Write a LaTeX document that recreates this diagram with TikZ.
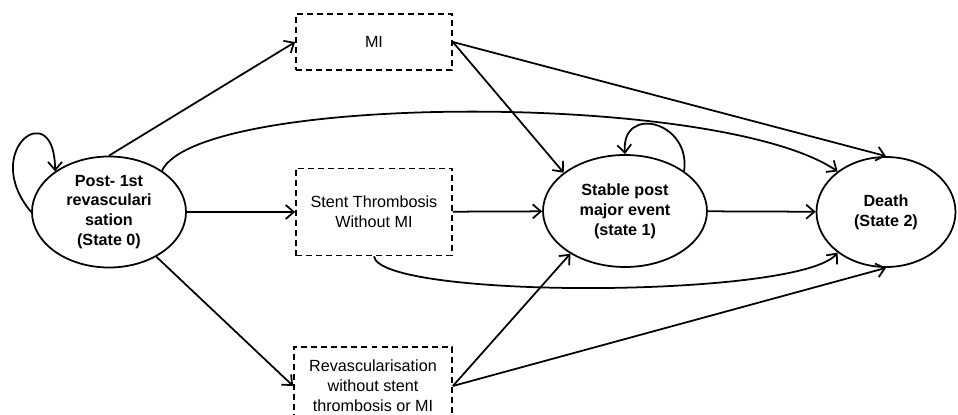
\documentclass[tikz,border=0pt]{standalone}
\usepackage{fontspec}
\setmainfont{Liberation Sans}
\usetikzlibrary{shapes.geometric,arrows.meta}

\begin{document}
\begin{tikzpicture}[>={Straight Barb[length=4.6pt,width=8pt]}, line width=1pt,
    state/.style={draw, ellipse, inner sep=0pt, align=center,
        font=\fontsize{9.2}{11.3}\selectfont\bfseries},
    event/.style={draw, dash pattern=on 3.4pt off 2.3pt, inner sep=0pt, align=center,
        font=\fontsize{9.2}{11.3}\selectfont}]
                \useasboundingbox (0,0) rectangle (19.16,8.28);
                \clip (0,0) rectangle (19.16,8.28);

                %% states
                \node[state, minimum width=3.08cm, minimum height=2.22cm] (s0) at (2.18,4.04)
                    {Post- 1st\\revasculari\\sation\\(State 0)};
                \node[state, minimum width=3.28cm, minimum height=2.24cm] (s1) at (12.5,4.06)
                    {Stable post\\major event\\(state 1)};
                \node[state, minimum width=2.78cm, minimum height=2.2cm] (de) at (17.72,4.04)
                    {Death\\(State 2)};

                %% events
                \node[event, minimum width=3.12cm, minimum height=1.12cm] (mi) at (7.48,7.44) {MI};
                \node[event, minimum width=3.12cm, minimum height=1.74cm] (st) at (7.48,4.04)
                    {Stent Thrombosis\\Without MI};
                \node[event, minimum width=3.16cm, minimum height=1.56cm] (rv) at (7.46,0.56)
                    {Revascularisation\\without stent\\thrombosis or MI};

                %State 0
                \draw[->] (s0.west) .. controls +(-1.04,1.24) and +(0,1.54) .. (s0.143);
                \draw[->] (s0.north) -- (mi.west);
                \draw[->] (s0) -- (st);
                \draw[->] (s0) -- (rv.west);
                \draw[->] (s0.38) .. controls +(0.76,1.56) and +(-2.36,1.6) .. (de.140);

                %MI
                \draw[->] (mi.east) -- (s1.148);
                \draw[->] (mi.east) -- (de.north);

                %Stent
                \draw[->] (st) -- (s1);
                \draw[->] (st.south) .. controls +(0.12,-0.86) and +(-0.76,-0.92) .. (de.220);

                %Revasc
                \draw[->] (rv.east) -- (s1.218);
                \draw[->] (rv.east) -- (de.south);

                %State 1
                \draw[->] (s1.34) .. controls +(0.14,1.0) and +(-0.08,1.0) .. (s1.north);
                \draw[->] (s1) -- (de);

            \end{tikzpicture}
\end{document}
